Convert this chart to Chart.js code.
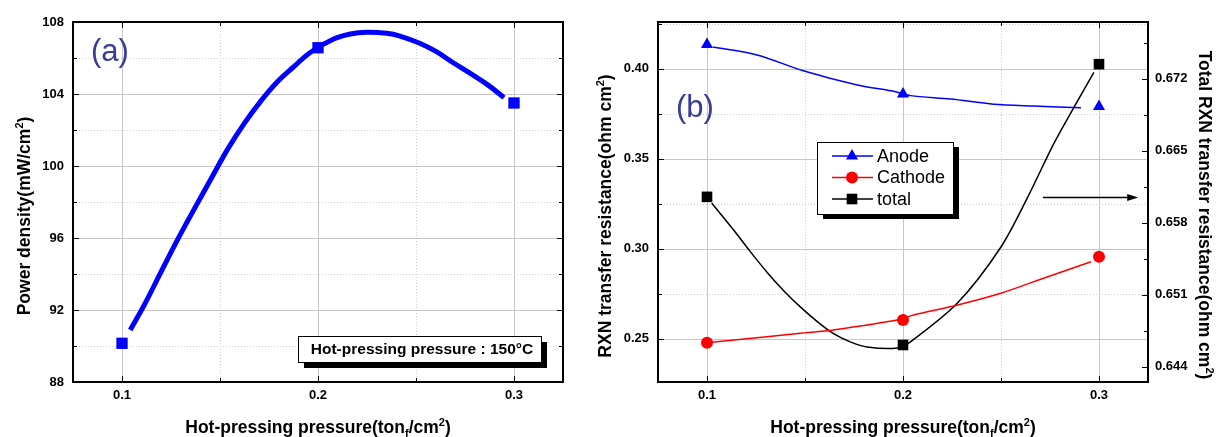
<!DOCTYPE html>
<html>
<head>
<meta charset="utf-8">
<script src="https://cdn.jsdelivr.net/npm/chart.js@4.4.1/dist/chart.umd.min.js"></script>
<style>
  html, body { margin: 0; padding: 0; background: #fff; }
  #wrap { position: relative; width: 1219px; height: 437px; }
  canvas { position: absolute; top: 0; }
  #chartA { left: 0; }
  #chartB { left: 590px; }
</style>
</head>
<body>
<div id="wrap">
  <canvas id="chartA" width="590" height="437"></canvas>
  <canvas id="chartB" width="629" height="437"></canvas>
</div>
<script>
// ---- data ----
// (a) power density vs hot-pressing pressure
const pressure = [0.1, 0.2, 0.3];
const powerDensity = [90.15, 106.57, 103.5];
// fitted curve drawn through the points
const fitPressure = [0.1042, 0.1118, 0.1203, 0.1287, 0.1371, 0.1456, 0.154, 0.1624, 0.1709,
  0.1793, 0.1877, 0.1962, 0.208, 0.2165, 0.2249, 0.235, 0.2418, 0.2519, 0.2604, 0.2688,
  0.2789, 0.2873, 0.2949];
const fitPower = [90.89, 92.37, 94.2, 95.98, 97.66, 99.32, 100.95, 102.37, 103.62,
  104.68, 105.52, 106.32, 107.05, 107.33, 107.43, 107.37, 107.22, 106.82, 106.35, 105.75,
  105.06, 104.45, 103.8];

// (b) RXN transfer resistance
const anodeR = [0.4135, 0.386, 0.379];
const cathodeR = [0.2478, 0.2604, 0.2956];
const totalR = [0.6605, 0.6461, 0.6734];
const anodeCurveX = [0.1031, 0.1256, 0.1491, 0.1767, 0.1962, 0.2038, 0.2243, 0.2463, 0.2668, 0.2908];
const anodeCurve = [0.4121, 0.4077, 0.3989, 0.391, 0.3873, 0.3851, 0.3832, 0.3803, 0.3793, 0.3784];
const cathodeCurveX = [0.1024, 0.1305, 0.1476, 0.1646, 0.1817, 0.197, 0.2054, 0.2279, 0.2499, 0.2739, 0.2959];
const cathodeCurve = [0.2481, 0.2512, 0.2531, 0.2549, 0.2577, 0.2604, 0.2632, 0.2688, 0.2753, 0.2845, 0.2928];
const totalCurveX = [0.1024, 0.1135, 0.122, 0.1305, 0.139, 0.1476, 0.1561, 0.1646, 0.1731,
  0.1817, 0.197, 0.2038, 0.2279, 0.2499, 0.2637, 0.277, 0.2872, 0.2974];
const totalCurve = [0.6599, 0.6573, 0.6552, 0.6532, 0.6514, 0.6498, 0.6484, 0.6472, 0.6464,
  0.6459, 0.6458, 0.6464, 0.6502, 0.6556, 0.6605, 0.6657, 0.6692, 0.6726];

// ---- ticks ----
const xTickLabels = [0.1, 0.2, 0.3];
const xMinor = [0.15, 0.25];
const powerTickLabels = [88, 92, 96, 100, 104, 108];
const powerMinor = [90, 94, 98, 102, 106];
const resTickLabels = [0.25, 0.30, 0.35, 0.40];
const resMinor = [0.275, 0.325, 0.375, 0.425];
const totalTickLabels = [0.644, 0.651, 0.658, 0.665, 0.672];
const totalMinor = [0.6475, 0.6545, 0.6615, 0.6685, 0.6755];

const FONT = '"Liberation Sans", Arial, sans-serif';
const tickFont = { family: FONT, size: 13, weight: 'bold' };
const TITLE_SIZE = 17.5;

const allTicks = (major, minor) => major.concat(minor).sort((a, b) => a - b);
const xy = (xs, ys) => xs.map((x, i) => ({ x, y: ys[i] }));

// ---- drawing helpers ----
function drawGrid(chart, scaleId, major, minor, vertical) {
  const { ctx, chartArea: a } = chart;
  const s = chart.scales[scaleId];
  ctx.save();
  ctx.lineWidth = 1;
  allTicks(major, minor).forEach(v => {
    const isMajor = major.includes(v);
    const p = Math.round(s.getPixelForValue(v)) + 0.5;
    ctx.strokeStyle = isMajor ? '#c6c6c6' : '#cdcdcd';
    ctx.setLineDash(isMajor ? [] : [1, 2]);
    ctx.beginPath();
    if (vertical) { ctx.moveTo(p, a.top); ctx.lineTo(p, a.bottom); }
    else { ctx.moveTo(a.left, p); ctx.lineTo(a.right, p); }
    ctx.stroke();
  });
  ctx.restore();
}

// short tick marks pointing into the plot
function drawInnerTicks(chart, scaleId, major, minor, sides) {
  const { ctx, chartArea: a } = chart;
  const s = chart.scales[scaleId];
  ctx.save();
  ctx.strokeStyle = '#000';
  ctx.lineWidth = 1;
  allTicks(major, minor).forEach(v => {
    const len = major.includes(v) ? 6 : 4;
    const p = Math.round(s.getPixelForValue(v)) + 0.5;
    ctx.beginPath();
    sides.forEach(side => {
      if (side === 'bottom') { ctx.moveTo(p, a.bottom); ctx.lineTo(p, a.bottom - len); }
      if (side === 'top') { ctx.moveTo(p, a.top); ctx.lineTo(p, a.top + len); }
      if (side === 'left') { ctx.moveTo(a.left, p); ctx.lineTo(a.left + len, p); }
      if (side === 'right') { ctx.moveTo(a.right, p); ctx.lineTo(a.right - len, p); }
    });
    ctx.stroke();
  });
  ctx.restore();
}

function drawFrame(chart) {
  const { ctx, chartArea: a } = chart;
  ctx.save();
  ctx.strokeStyle = '#000';
  ctx.lineWidth = 2;
  ctx.strokeRect(a.left, a.top, a.right - a.left, a.bottom - a.top);
  ctx.restore();
}

// text with sub/superscripts, centred on (x, y)
function drawRich(ctx, parts, x, y, size, angle) {
  const small = Math.round(size * 0.62);
  const fontOf = p => `bold ${p.sub || p.sup ? small : size}px ${FONT}`;
  ctx.save();
  ctx.translate(x, y);
  ctx.rotate(angle);
  ctx.fillStyle = '#000';
  ctx.textBaseline = 'alphabetic';
  ctx.textAlign = 'left';
  let total = 0;
  parts.forEach(p => { ctx.font = fontOf(p); total += ctx.measureText(p.t).width; });
  let cx = -total / 2;
  parts.forEach(p => {
    ctx.font = fontOf(p);
    const dy = p.sup ? -size * 0.42 : p.sub ? size * 0.22 : 0;
    ctx.fillText(p.t, cx, size * 0.36 + dy);
    cx += ctx.measureText(p.t).width;
  });
  ctx.restore();
}

function shadowBox(ctx, x, y, w, h, dx, dy) {
  ctx.save();
  ctx.fillStyle = '#000';
  ctx.fillRect(x + dx, y + dy, w, h);
  ctx.fillStyle = '#fff';
  ctx.fillRect(x, y, w, h);
  ctx.strokeStyle = '#000';
  ctx.lineWidth = 1;
  ctx.strokeRect(x + 0.5, y + 0.5, w, h);
  ctx.restore();
}

function marker(ctx, style, x, y, r, color) {
  ctx.save();
  ctx.fillStyle = color;
  ctx.beginPath();
  if (style === 'circle') ctx.arc(x, y, r, 0, Math.PI * 2);
  if (style === 'rect') { const s = r * Math.SQRT1_2; ctx.rect(x - s, y - s, 2 * s, 2 * s); }
  if (style === 'triangle') {
    for (let k = 0; k < 3; k++) {
      const ang = k * 2 * Math.PI / 3;
      const px = x + Math.sin(ang) * r, py = y - Math.cos(ang) * r;
      k ? ctx.lineTo(px, py) : ctx.moveTo(px, py);
    }
    ctx.closePath();
  }
  ctx.fill();
  ctx.restore();
}

const xTitle = [
  { t: 'Hot-pressing pressure(ton' }, { t: 'f', sub: true }, { t: '/cm' }, { t: '2', sup: true }, { t: ')' }
];

function linearX() {
  return {
    type: 'linear', min: 0.075, max: 0.325,
    afterBuildTicks: s => { s.ticks = allTicks(xTickLabels, xMinor).map(v => ({ value: v })); },
    afterFit: s => { s.height = 55; },
    ticks: {
      autoSkip: false, maxRotation: 0, padding: 6, color: '#000', font: tickFont,
      callback: v => xTickLabels.includes(v) ? v.toFixed(1) : ''
    },
    grid: { display: false, drawTicks: false },
    border: { display: false }
  };
}

// ---- (a) ----
const plotA = {
  id: 'plotA',
  beforeDatasetsDraw(chart) {
    drawGrid(chart, 'x', xTickLabels, xMinor, true);
    drawGrid(chart, 'y', powerTickLabels, powerMinor, false);
  },
  afterDatasetsDraw(chart) {
    const ctx = chart.ctx;
    drawInnerTicks(chart, 'x', xTickLabels, xMinor, ['bottom', 'top']);
    drawInnerTicks(chart, 'y', powerTickLabels, powerMinor, ['left', 'right']);
    drawFrame(chart);
    // condition box
    shadowBox(ctx, 298, 336, 243, 26, 6, 6);
    ctx.save();
    ctx.fillStyle = '#000';
    ctx.font = `bold 15.5px ${FONT}`;
    ctx.textAlign = 'center';
    ctx.textBaseline = 'middle';
    ctx.fillText('Hot-pressing pressure : 150\u00B0C', 422, 350);
    // panel letter
    ctx.fillStyle = '#3a3a99';
    ctx.font = `31px ${FONT}`;
    ctx.textAlign = 'left';
    ctx.textBaseline = 'alphabetic';
    ctx.fillText('(a)', 91, 61);
    ctx.restore();
  },
  afterDraw(chart) {
    const ctx = chart.ctx;
    drawRich(ctx, xTitle, 318, 427, TITLE_SIZE, 0);
    drawRich(ctx, [{ t: 'Power density(mW/cm' }, { t: '2', sup: true }, { t: ')' }], 24, 216, TITLE_SIZE, -Math.PI / 2);
  }
};

new Chart(document.getElementById('chartA'), {
  type: 'line',
  data: {
    datasets: [
      {
        data: xy(fitPressure, fitPower),
        borderColor: '#0000ff', borderWidth: 5, pointRadius: 0,
        tension: 0.4, fill: false
      },
      {
        data: xy(pressure, powerDensity),
        showLine: false, pointStyle: 'rect', pointRadius: 8,
        pointBackgroundColor: '#0000ff', pointBorderColor: '#0000ff', pointBorderWidth: 0
      }
    ]
  },
  options: {
    responsive: false, animation: false, devicePixelRatio: 1,
    layout: { padding: { left: 0, right: 27, top: 22, bottom: 0 } },
    plugins: { legend: { display: false }, tooltip: { enabled: false } },
    scales: {
      x: linearX(),
      y: {
        type: 'linear', min: 88, max: 108,
        afterBuildTicks: s => { s.ticks = allTicks(powerTickLabels, powerMinor).map(v => ({ value: v })); },
        afterFit: s => { s.width = 73; },
        ticks: {
          autoSkip: false, padding: 9, color: '#000', font: tickFont,
          callback: v => powerTickLabels.includes(v) ? String(v) : ''
        },
        grid: { display: false, drawTicks: false },
        border: { display: false }
      }
    }
  },
  plugins: [plotA]
});

// ---- (b) ----
const legendRows = [
  { label: 'Anode', color: '#0000ff', style: 'triangle', r: 7 },
  { label: 'Cathode', color: '#ff0000', style: 'circle', r: 6 },
  { label: 'total', color: '#000000', style: 'rect', r: 7.5 }
];

const plotB = {
  id: 'plotB',
  beforeDatasetsDraw(chart) {
    drawGrid(chart, 'x', xTickLabels, xMinor, true);
    drawGrid(chart, 'y', resTickLabels, resMinor, false);
  },
  afterDatasetsDraw(chart) {
    const ctx = chart.ctx;
    drawInnerTicks(chart, 'x', xTickLabels, xMinor, ['bottom', 'top']);
    drawInnerTicks(chart, 'y', resTickLabels, resMinor, ['left']);
    drawInnerTicks(chart, 'y2', totalTickLabels, totalMinor, ['right']);
    drawFrame(chart);

    // legend
    shadowBox(ctx, 227, 142, 136, 72, 6, 5);
    ctx.save();
    ctx.font = `18px ${FONT}`;
    ctx.textBaseline = 'middle';
    ctx.textAlign = 'left';
    legendRows.forEach((row, i) => {
      const y = 156 + i * 21.5;
      ctx.strokeStyle = row.color;
      ctx.lineWidth = 1.5;
      ctx.beginPath(); ctx.moveTo(242, y); ctx.lineTo(283, y); ctx.stroke();
      marker(ctx, row.style, 262, y, row.r, row.color);
      ctx.fillStyle = '#000';
      ctx.fillText(row.label, 287, y + 1);
    });

    // arrow pointing to the right-hand axis
    const ay = Math.round(chart.scales.y2.getPixelForValue(0.6605)) + 0.5;
    const ax1 = chart.scales.x.getPixelForValue(0.2714);
    const ax2 = chart.scales.x.getPixelForValue(0.3200);
    ctx.strokeStyle = '#000';
    ctx.fillStyle = '#000';
    ctx.lineWidth = 1.3;
    ctx.beginPath(); ctx.moveTo(ax1, ay); ctx.lineTo(ax2 - 8, ay); ctx.stroke();
    ctx.beginPath(); ctx.moveTo(ax2, ay); ctx.lineTo(ax2 - 11, ay - 3.5); ctx.lineTo(ax2 - 11, ay + 3.5); ctx.closePath(); ctx.fill();

    // panel letter
    ctx.fillStyle = '#3a3a99';
    ctx.font = `31px ${FONT}`;
    ctx.textBaseline = 'alphabetic';
    ctx.fillText('(b)', 86, 117);
    ctx.restore();
  },
  afterDraw(chart) {
    const ctx = chart.ctx;
    drawRich(ctx, xTitle, 313, 427, TITLE_SIZE, 0);
    drawRich(ctx, [{ t: 'RXN transfer resistance(ohm cm' }, { t: '2', sup: true }, { t: ')' }], 15, 216, TITLE_SIZE, -Math.PI / 2);
    drawRich(ctx, [{ t: 'Total RXN transfer resistance(ohm cm' }, { t: '2', sup: true }, { t: ')' }], 615, 215, TITLE_SIZE, Math.PI / 2);
  }
};

const curve = (xs, ys, color, axis) => ({
  data: xy(xs, ys), yAxisID: axis,
  borderColor: color, borderWidth: 1.5, pointRadius: 0,
  tension: 0.3, fill: false
});
const points = (ys, color, style, r, axis) => ({
  data: xy(pressure, ys), yAxisID: axis, showLine: false,
  pointStyle: style, pointRadius: r,
  pointBackgroundColor: color, pointBorderColor: color, pointBorderWidth: 0
});

new Chart(document.getElementById('chartB'), {
  type: 'line',
  data: {
    datasets: [
      curve(anodeCurveX, anodeCurve, '#0000ff', 'y'),
      curve(cathodeCurveX, cathodeCurve, '#ff0000', 'y'),
      curve(totalCurveX, totalCurve, '#000000', 'y2'),
      points(anodeR, '#0000ff', 'triangle', 7, 'y'),
      points(cathodeR, '#ff0000', 'circle', 6, 'y'),
      points(totalR, '#000000', 'rect', 7.5, 'y2')
    ]
  },
  options: {
    responsive: false, animation: false, devicePixelRatio: 1,
    layout: { padding: { left: 0, right: 0, top: 22, bottom: 0 } },
    plugins: { legend: { display: false }, tooltip: { enabled: false } },
    scales: {
      x: linearX(),
      y: {
        type: 'linear', position: 'left', min: 0.226, max: 0.426,
        afterBuildTicks: s => { s.ticks = allTicks(resTickLabels, resMinor).map(v => ({ value: v })); },
        afterFit: s => { s.width = 68; },
        ticks: {
          autoSkip: false, padding: 9, color: '#000', font: tickFont,
          callback: v => resTickLabels.includes(v) ? v.toFixed(2) : ''
        },
        grid: { display: false, drawTicks: false },
        border: { display: false }
      },
      y2: {
        type: 'linear', position: 'right', min: 0.6425, max: 0.6775,
        afterBuildTicks: s => { s.ticks = allTicks(totalTickLabels, totalMinor).map(v => ({ value: v })); },
        afterFit: s => { s.width = 71; },
        ticks: {
          autoSkip: false, padding: 7, color: '#000', font: tickFont,
          callback: v => totalTickLabels.includes(v) ? v.toFixed(3) : ''
        },
        grid: { display: false, drawTicks: false },
        border: { display: false }
      }
    }
  },
  plugins: [plotB]
});
</script>
</body>
</html>
